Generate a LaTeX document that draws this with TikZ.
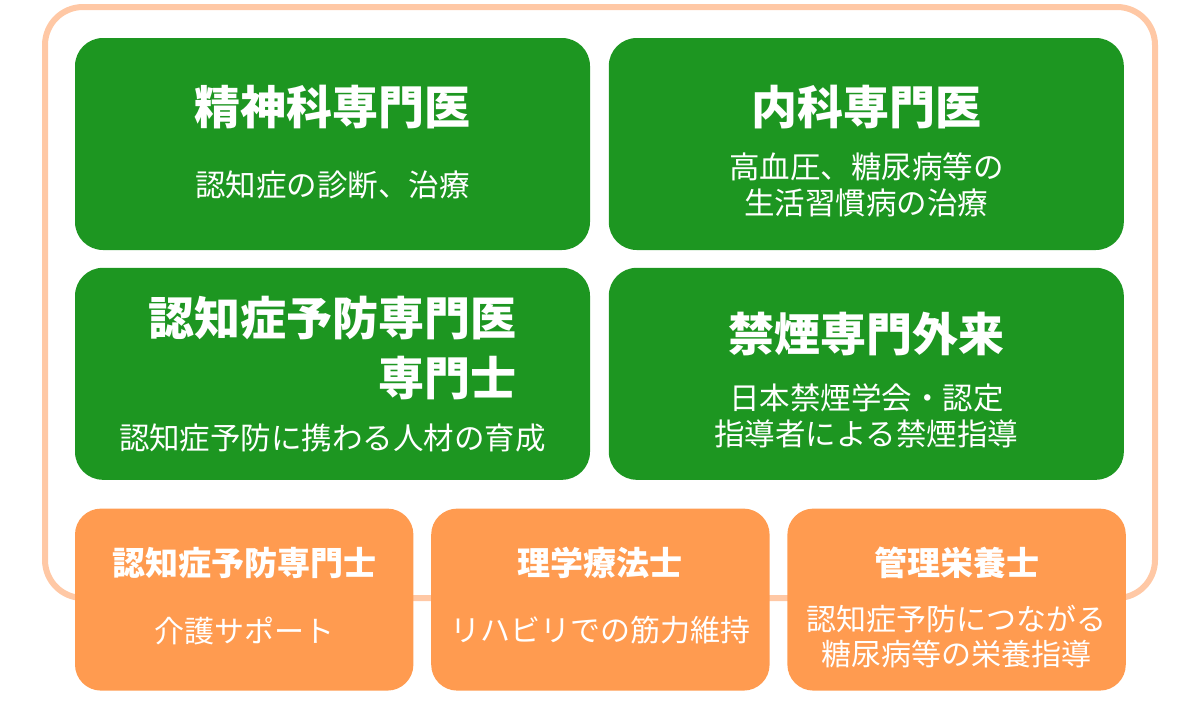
\documentclass[tikz,border=0pt]{standalone}
\usepackage{fontspec}
\usepackage{xcolor}
\usetikzlibrary{positioning}
\setmainfont{Noto Sans CJK JP}
\definecolor{docgreen}{HTML}{1D9621}
\definecolor{careorange}{HTML}{FF9B50}
\definecolor{framepeach}{HTML}{FFC8A5}
\tikzstyle{every node}=[text=white, inner sep=0pt]
\tikzstyle{doctor} = [rectangle, fill=docgreen, rounded corners=14pt, minimum width=257.5pt, minimum height=106pt]
\tikzstyle{staff} = [rectangle, fill=careorange, rounded corners=13pt, minimum width=169.2pt, minimum height=91pt]
\tikzstyle{head} = [font=\fontsize{23pt}{30pt}\selectfont\bfseries]
\tikzstyle{note} = [font=\fontsize{15.25pt}{18pt}\selectfont, align=center]
\tikzstyle{subhead} = [font=\fontsize{16.5pt}{20pt}\selectfont\bfseries]
\tikzstyle{subnote} = [font=\fontsize{15pt}{17.5pt}\selectfont, align=center]
\tikzstyle{frame} = [draw=framepeach, line width=3pt, rounded corners=19pt]

\begin{document}
\begin{tikzpicture}
    \useasboundingbox (0pt,0pt) rectangle (600pt,-361.5pt);
    % Outer frame
    \draw [frame] (22.5pt,-3.5pt) rectangle (577.5pt,-299pt);
    % Place boxes
    \node [doctor] (psy) at (166.25pt,-72pt) {};
    \node [doctor, right=9pt of psy] (int) {};
    \node [doctor, below=8.5pt of psy] (prev) {};
    \node [doctor, below=8.5pt of int] (smoke) {};
    \node [staff, below right=14pt and 0pt of prev.south west, anchor=north west] (care) {};
    \node [staff, right=8.5pt of care] (rehab) {};
    \node [staff, right=8.5pt of rehab] (diet) {};
    % Texts
    \node [head] (psyhead) at ([yshift=18.5pt]psy.center) {精神科専門医};
    \node [note] (psynote) at ([yshift=-20.5pt]psy.center) {認知症の診断、治療};
    \node [head] (inthead) at ([yshift=18.5pt]int.center) {内科専門医};
    \node [note] (intnote) at ([yshift=-20.5pt]int.center) {高血圧、糖尿病等の\\生活習慣病の治療};
    \node [head, align=right, font=\fontsize{23pt}{30pt}\selectfont\bfseries] (prevhead) at ([yshift=12.75pt]prev.center) {認知症予防専門医\\専門士};
    \node [note] (prevnote) at ([yshift=-32.25pt]prev.center) {認知症予防に携わる人材の育成};
    \node [head] (smokehead) at ([yshift=19.75pt]smoke.center) {禁煙専門外来};
    \node [note] (smokenote) at ([yshift=-21.25pt]smoke.center) {日本禁煙学会・認定\\指導者による禁煙指導};
    \node [subhead] (carehead) at ([yshift=18.5pt]care.center) {認知症予防専門士};
    \node [subnote] (carenote) at ([yshift=-15.5pt]care.center) {介護サポート};
    \node [subhead] (rehabhead) at ([yshift=18.5pt]rehab.center) {理学療法士};
    \node [subnote] (rehabnote) at ([yshift=-15.5pt]rehab.center) {リハビリでの筋力維持};
    \node [subhead] (diethead) at ([yshift=18.5pt]diet.center) {管理栄養士};
    \node [subnote] (dietnote) at ([yshift=-18.25pt]diet.center) {認知症予防につながる\\糖尿病等の栄養指導};
\end{tikzpicture}
\end{document}
